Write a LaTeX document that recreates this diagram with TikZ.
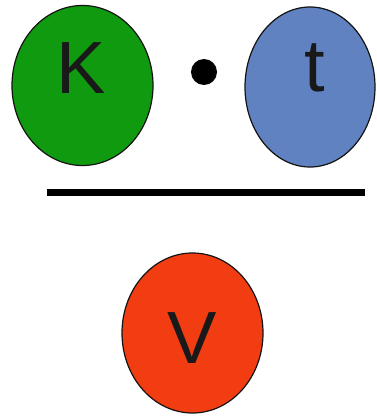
\documentclass[tikz,border=0pt]{standalone}
\usepackage{fontspec}
\setmainfont{Liberation Sans}
\usetikzlibrary{shapes.geometric}
\definecolor{kgreen}{HTML}{109A10}
\definecolor{tblue}{HTML}{6082C0}
\definecolor{vred}{HTML}{F23C12}
\begin{document}
\begin{tikzpicture}[x=1pt,y=-1pt,
  blob/.style={ellipse, draw=black!85!gray, line width=1.2pt, inner sep=0pt},
  lbl/.style={font=\fontsize{74}{80}\selectfont, text=black!90}]
\useasboundingbox (0,0) rectangle (376,417);
\node[blob, fill=kgreen, minimum width=141pt, minimum height=160pt] (K) at (82.5,85.5) {};
\node[lbl] at (81,68) {K};
\node[blob, fill=tblue, minimum width=130pt, minimum height=160pt] (T) at (310,87) {};
\node[lbl] at (315,68) {t};
\node[circle, fill=black, minimum size=26pt, inner sep=0pt] (dot) at (204,72) {};
\coordinate (L1) at (47,192.5);
\coordinate (L2) at (365,192.5);
\draw[line width=7.5pt] (L1) -- (L2);
\node[blob, fill=vred, minimum width=141pt, minimum height=160pt] (V) at (192.5,333) {};
\node[lbl] at (192,338) {V};
\end{tikzpicture}
\end{document}
